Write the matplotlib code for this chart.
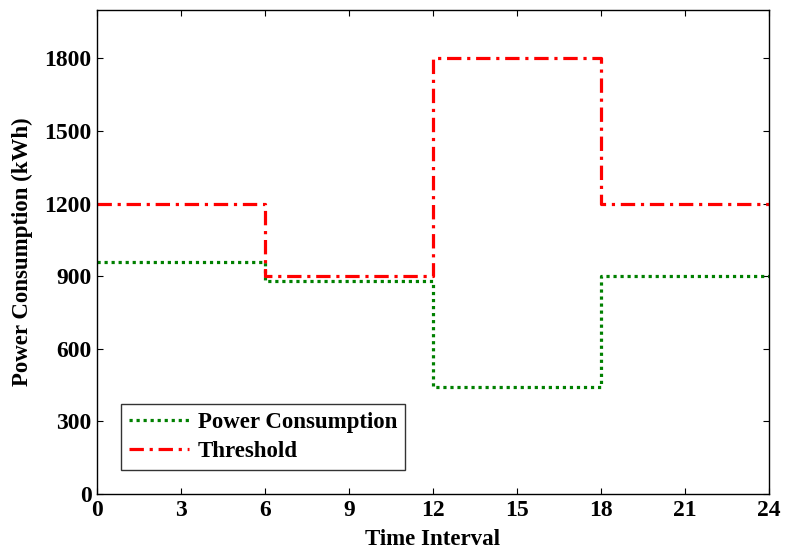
import matplotlib
matplotlib.use("Agg")
import matplotlib.pyplot as plt

# step boundaries (hours) and the value held over each interval
hours = [0, 6, 12, 18, 24]
consumption = [960, 880, 440, 900]
threshold = [1200, 900, 1800, 1200]

x_ticks = [0, 3, 6, 9, 12, 15, 18, 21, 24]
y_ticks = [0, 300, 600, 900, 1200, 1500, 1800]

plt.rcParams["font.family"] = ["Liberation Serif", "DejaVu Serif"]
plt.rcParams["font.weight"] = "bold"

fig = plt.figure(figsize=(7.86, 5.55), dpi=100)
ax = fig.add_axes([0.1234, 0.110, 0.855, 0.872])

ax.plot(hours, consumption + consumption[-1:], drawstyle="steps-post",
        color="#008000", lw=2.3, linestyle=(0, (1, 1.2)), label="Power Consumption")
ax.plot(hours, threshold + threshold[-1:], drawstyle="steps-post",
        color="#ff0000", lw=2.3, linestyle=(0, (4.5, 1.8, 1, 1.8)), label="Threshold")

ax.set_xlim(0, 24)
ax.set_ylim(0, 2000)
ax.set_xticks(x_ticks)
ax.set_yticks(y_ticks)
ax.tick_params(direction="in", length=4, width=0.8, top=True, right=True,
               labelsize=17, pad=4)
for lab in ax.get_xticklabels() + ax.get_yticklabels():
    lab.set_fontweight("bold")
for s in ax.spines.values():
    s.set_linewidth(1.0)

ax.set_xlabel("Time Interval", fontsize=16.5, fontweight="bold", labelpad=6)
ax.set_ylabel("Power Consumption (kWh)", fontsize=16.5, fontweight="bold", labelpad=8)

leg = ax.legend(loc="lower left", bbox_to_anchor=(0.036, 0.05), borderaxespad=0,
                frameon=True, fancybox=False, edgecolor="black", handlelength=2.6,
                borderpad=0.35, labelspacing=0.35, handletextpad=0.4,
                prop={"weight": "bold", "size": 16.5})
leg.get_frame().set_linewidth(1.0)

fig.savefig("out.png", dpi=100)
